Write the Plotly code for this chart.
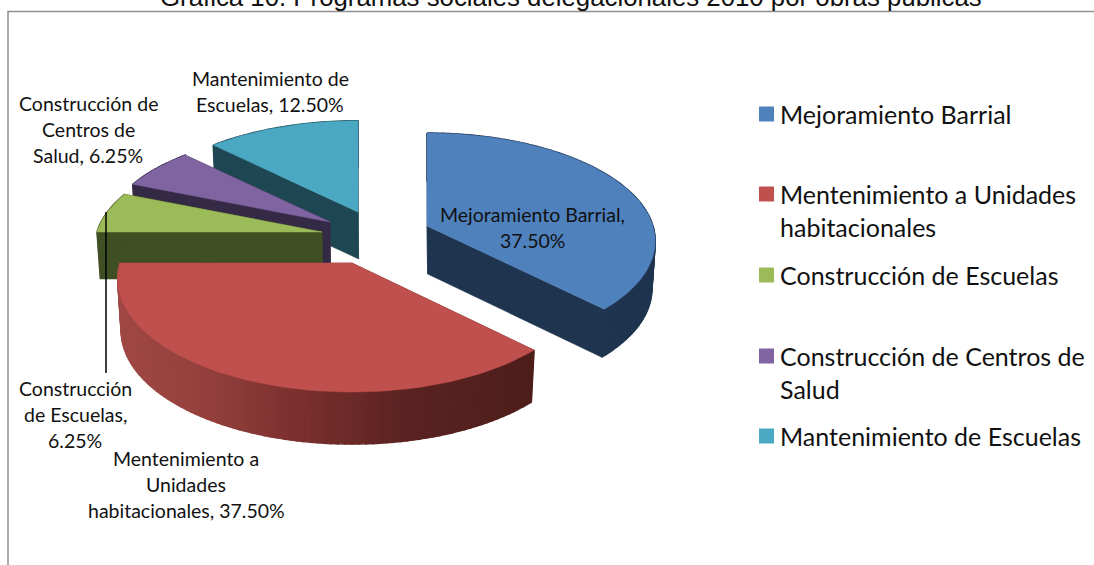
import math
import plotly.graph_objects as go

# ---- data ----
title = "Gráfica 10. Programas sociales delegacionales 2010 por obras públicas"
categories = ["Mejoramiento Barrial", "Mentenimiento a Unidades habitacionales",
              "Construcción de Escuelas", "Construcción de Centros de Salud",
              "Mantenimiento de Escuelas"]
values = [37.5, 37.5, 6.25, 6.25, 12.5]
legend_lines = [["Mejoramiento Barrial"],
                ["Mentenimiento a Unidades", "habitacionales"],
                ["Construcción de Escuelas"],
                ["Construcción de Centros de", "Salud"],
                ["Mantenimiento de Escuelas"]]
label_lines = [["Mejoramiento Barrial,", "37.50%"],
               ["Mentenimiento a", "Unidades", "habitacionales, 37.50%"],
               ["Construcción", "de Escuelas,", "6.25%"],
               ["Construcción de", "Centros de", "Salud, 6.25%"],
               ["Mantenimiento de", "Escuelas, 12.50%"]]

# ---- style and layout ----
top_colors = ["#4f81bd", "#c0504d", "#9bbb59", "#8064a2", "#4aa8c3"]
side_colors = ["#1f344f", "#4f1f1c", "#414f24", "#352a45", "#1f4753"]
CENTER = (345, 235)
explode = [(82, -9), (7, 28), (-23, -3), (-15, -13), (13, -23)]
radius_x = [226, 232, 225, 225, 225]
radius_y = [106, 111, 104, 104, 104]
depths = [48, 52, 47, 47, 47]
K, SHRINK = 0.14, 0.985
label_pos = [(532, 214), (186, 458), (75, 388), (88, 103), (270, 78)]
legend_y = [114, 194, 275, 356, 436]
LINE_GAP_LABEL, LINE_GAP_LEGEND = 26, 32.5
draw_order = [4, 3, 2, 0, 1]
LABEL_FONT = dict(family="Lato, Carlito, sans-serif", size=19.5, color="#111111")
LEGEND_FONT = dict(family="Lato, Carlito, sans-serif", size=25, color="#111111")

fig = go.Figure()


def project(angle, apex, rx, ry, depth=None):
    """Point of a slice rim at a clockwise angle from 12 o'clock, in tilted perspective."""
    u, v = math.sin(angle), -math.cos(angle)
    s = 1 / (1 - K * v)
    x = rx * u * s
    y = ry * v * s
    if depth is not None:
        return apex[0] + x * SHRINK, apex[1] + y + depth
    return apex[0] + x, apex[1] + y


def poly(xs, ys, color, width=0.5):
    fig.add_trace(go.Scatter(x=list(xs) + [xs[0]], y=list(ys) + [ys[0]], mode="lines", fill="toself",
                             fillcolor=color, line=dict(color=color, width=width),
                             hoverinfo="skip", showlegend=False))


def red_side(x):
    stops = [(120, (160, 72, 69)), (200, (150, 65, 62)), (300, (122, 48, 46)),
             (400, (92, 36, 34)), (533, (78, 30, 27))]
    for (x0, c0), (x1, c1) in zip(stops, stops[1:]):
        if x <= x1:
            t = max(0, (x - x0) / (x1 - x0))
            return "rgb(%d,%d,%d)" % tuple(a + (b - a) * t for a, b in zip(c0, c1))
    return "rgb(78,30,27)"


total = sum(values)
starts = [sum(values[:i]) / total * 2 * math.pi for i in range(len(values))]

for i in draw_order:
    a0 = starts[i]
    a1 = a0 + values[i] / total * 2 * math.pi
    apex = (CENTER[0] + explode[i][0], CENTER[1] + explode[i][1])
    rx, ry, d = radius_x[i], radius_y[i], depths[i]
    n = max(4, int(values[i] * 2.4))
    angles = [a0 + (a1 - a0) * j / n for j in range(n + 1)]
    top = [project(a, apex, rx, ry) for a in angles]
    low = [project(a, apex, rx, ry, d) for a in angles]
    low_apex = (apex[0] + 0.6, apex[1] + d)
    # cut faces
    for t, b in ((top[0], low[0]), (top[-1], low[-1])):
        poly([apex[0], t[0], b[0], low_apex[0]], [apex[1], t[1], b[1], low_apex[1]], side_colors[i])
    # rim
    for j in range(n):
        col = side_colors[i] if i != 1 else red_side((top[j][0] + top[j + 1][0]) / 2)
        poly([top[j][0], top[j + 1][0], low[j + 1][0], low[j][0]],
             [top[j][1], top[j + 1][1], low[j + 1][1], low[j][1]], col, width=1.5)
    # top face
    poly([apex[0]] + [p[0] for p in top], [apex[1]] + [p[1] for p in top], top_colors[i])

# chart frame (left and top only, the rest is cut off)
fig.add_trace(go.Scatter(x=[8, 8, 1094], y=[565, 11.5, 11.5], mode="lines",
                         line=dict(color="#8f8f8f", width=1.5), hoverinfo="skip", showlegend=False))
# leader line
fig.add_trace(go.Scatter(x=[106, 106], y=[212, 373], mode="lines",
                         line=dict(color="#000000", width=1.5), hoverinfo="skip", showlegend=False))
# legend swatches
for cat, col, y in zip(categories, top_colors, legend_y):
    fig.add_trace(go.Scatter(x=[766.5], y=[y], mode="markers", name=cat,
                             marker=dict(symbol="square", size=15, color=col),
                             showlegend=False))

ann = []
for lines, (x, y) in zip(label_lines, label_pos):
    for k, line in enumerate(lines):
        ann.append(dict(x=x, y=y + k * LINE_GAP_LABEL, text=line, showarrow=False,
                        xanchor="center", yanchor="middle", font=LABEL_FONT))
for lines, y in zip(legend_lines, legend_y):
    for k, line in enumerate(lines):
        ann.append(dict(x=778, y=y + k * LINE_GAP_LEGEND, text=line, showarrow=False,
                        xanchor="left", yanchor="middle", font=LEGEND_FONT))
ann.append(dict(xref="x", yref="paper", x=571, y=1.005, text=title, showarrow=False,
                xanchor="center", yanchor="middle",
                font=dict(family="Liberation Sans, Arial, sans-serif", size=25.8, color="#111111")))

fig.update_layout(width=1094, height=565, margin=dict(l=0, r=0, t=0, b=0),
                  paper_bgcolor="white", plot_bgcolor="white", annotations=ann,
                  xaxis=dict(range=[0, 1094], visible=False, fixedrange=True),
                  yaxis=dict(range=[565, 0], visible=False, fixedrange=True))
fig.write_html("out.html", post_script="document.body.style.margin='0';",
               config=dict(displayModeBar=False))
